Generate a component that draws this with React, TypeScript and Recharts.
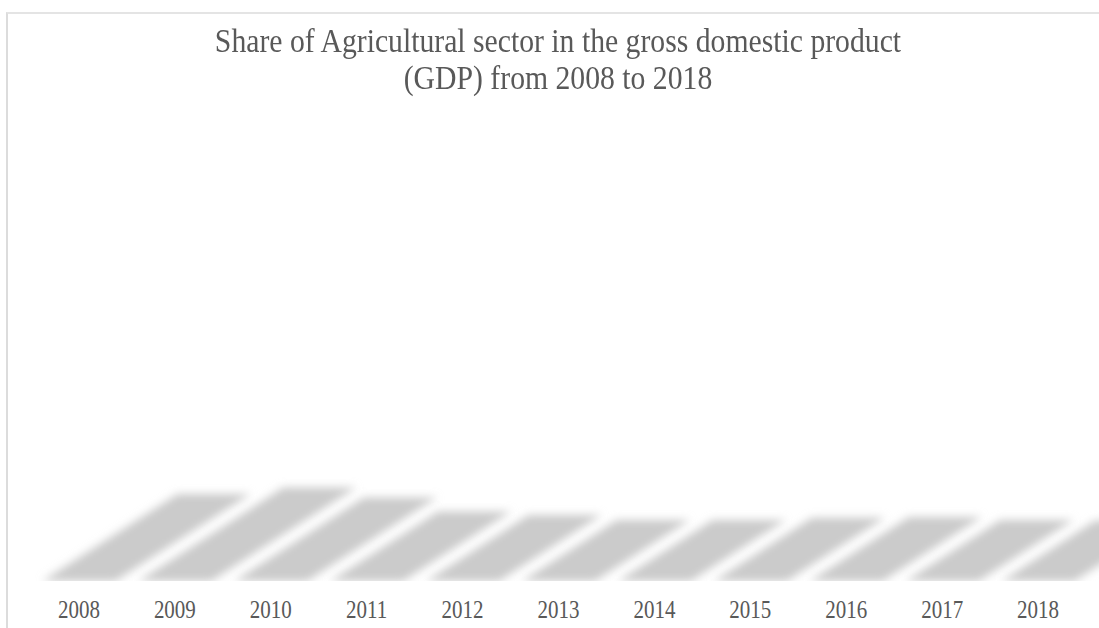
import { BarChart, Bar, XAxis, YAxis } from 'recharts'

const YEARS = ['2008', '2009', '2010', '2011', '2012', '2013', '2014', '2015', '2016', '2017', '2018']
const AGRI_SHARE = [12.4, 13.3, 11.9, 9.9, 9.4, 8.7, 8.7, 9.0, 9.1, 8.7, 8.6]

const data = YEARS.map((year, i) => ({ year, value: AGRI_SHARE[i] }))

const FONT = '"Liberation Serif", "Times New Roman", serif'
const TEXT = '#595959'
const SHADOW_SCALE = 0.218
const SKEW = 1.55

// only the perspective shadow of each column is visible in the original
function ShadowBar(props: any) {
  const { x, y, width, height, index } = props
  if (!height || height <= 0) return <g />
  const base = y + height
  const h = height * SHADOW_SCALE
  const off = h * SKEW
  const pts = [
    [x + 1, base],
    [x + width - 1, base],
    [x + width - 1 + off, base - h],
    [x + 1 + off, base - h],
  ].map((p) => p.join(',')).join(' ')
  const id = `shadow-blur-${index}`
  return (
    <g>
      <defs>
        <filter id={id} x="-25%" y="-40%" width="150%" height="180%">
          <feGaussianBlur stdDeviation="4.5" />
        </filter>
      </defs>
      <polygon points={pts} fill="#cbcbcb" filter={`url(#${id})`} />
    </g>
  )
}

// the original's lettering is a little taller than it is wide
function YearTick(props: any) {
  const { x, y, payload } = props
  return (
    <g transform={`translate(${x},${y})`}>
      <text
        textAnchor="middle"
        dy="0.71em"
        transform="scale(1,1.15)"
        fontFamily={FONT}
        fontSize={21}
        fill={TEXT}
      >
        {payload.value}
      </text>
    </g>
  )
}

export default function App() {
  return (
    <div style={{ position: 'absolute', left: 0, top: 0, width: 1099, height: 628, overflow: 'hidden', background: '#fff' }}>
      <div
        style={{
          position: 'absolute', left: 6, top: 12, width: 1200, height: 700,
          borderLeft: '2px solid #dcdcdc', borderTop: '2px solid #e4e4e4',
        }}
      />
      <div
        style={{
          position: 'absolute', left: 6, top: 22, width: 1104, textAlign: 'center',
          fontFamily: FONT, fontSize: 30, lineHeight: '34px', color: TEXT,
          transform: 'scale(0.99,1.1)', transformOrigin: '50% 0',
        }}
      >
        Share of Agricultural sector in the gross domestic product
        <br />
        (GDP) from 2008 to 2018
      </div>
      <div style={{ position: 'absolute', left: 0, top: 0 }}>
        <BarChart
          width={1099}
          height={628}
          data={data}
          margin={{ top: 130, right: 13, bottom: 17, left: 31 }}
          barCategoryGap="11%"
        >
          <XAxis
            dataKey="year"
            height={30}
            axisLine={false}
            tickLine={false}
            tickMargin={14}
            interval={0}
            tick={<YearTick />}
          />
          <YAxis hide domain={[0, 14]} allowDataOverflow />
          <Bar dataKey="value" shape={ShadowBar} isAnimationActive={false} />
        </BarChart>
      </div>
    </div>
  )
}
